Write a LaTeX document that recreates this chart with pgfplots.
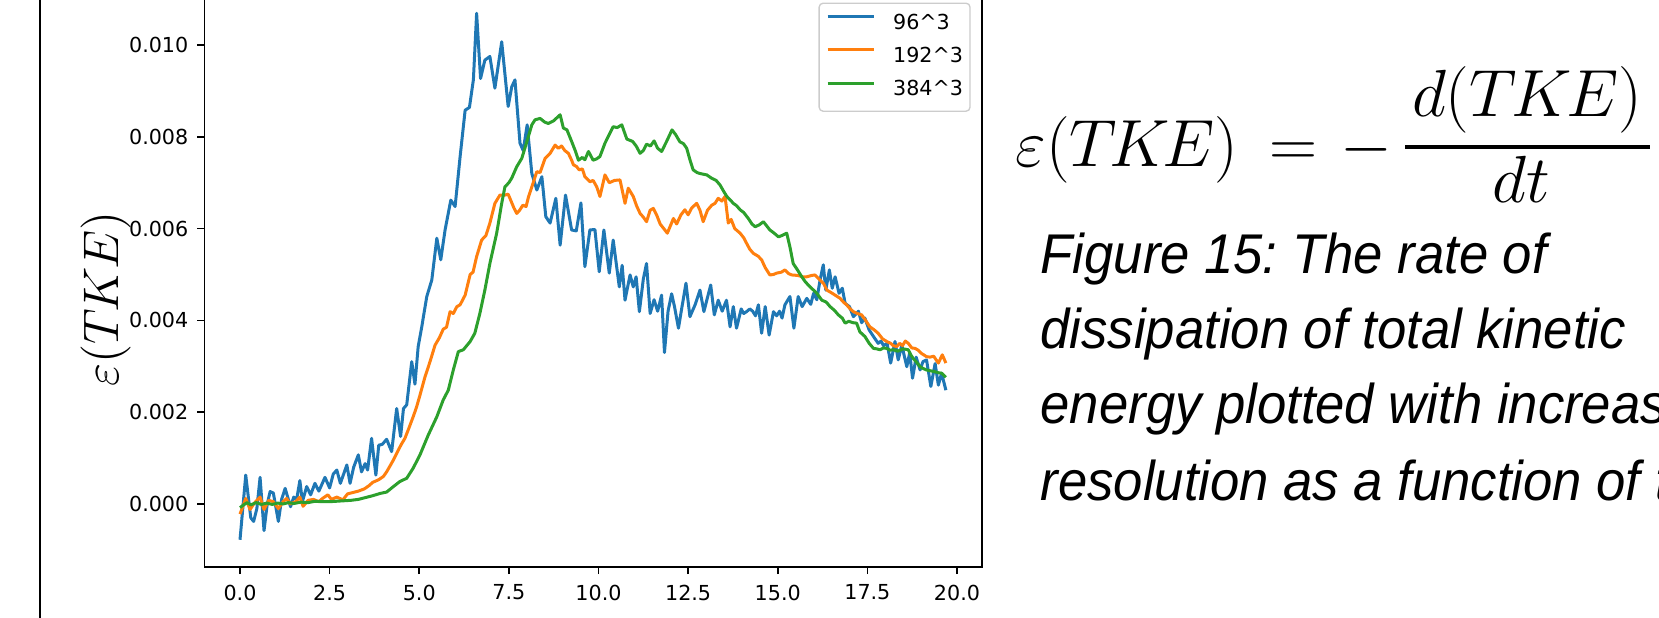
\RequirePackage{fix-cm}
\documentclass[border=0pt]{standalone}
\usepackage[no-math]{fontspec}
\setmainfont{DejaVu Sans}
\newfontfamily\capfont[FakeStretch=0.94]{Liberation Sans}
\usepackage{pgfplots}
\pgfplotsset{compat=1.18}
\definecolor{cB}{HTML}{1F77B4}
\definecolor{cO}{HTML}{FF7F0E}
\definecolor{cG}{HTML}{2CA02C}
\frenchspacing
\begin{document}
\begin{tikzpicture}
\useasboundingbox (0,0) rectangle (497.7pt,185.1pt);
\clip (0,0) rectangle (497.7pt,185.1pt);
\draw[line width=0.5pt] (12pt,-1pt) -- (12pt,186pt);
\begin{axis}[
  at={(61.29pt,15pt)}, anchor=south west,
  width=233.22pt, height=173.94pt, scale only axis,
  xmin=-0.996, xmax=20.689, ymin=-1.373, ymax=11.259,
  xtick={0,2.5,5,7.5,10,12.5,15,17.5,20},
  xticklabels={0.0,2.5,5.0,7.5,10.0,12.5,15.0,17.5,20.0},
  ytick={0,2,4,6,8,10},
  yticklabels={0.000,0.002,0.004,0.006,0.008,0.010},
  xtick pos=bottom, ytick pos=left,
  tick align=outside, major tick length=2.1pt,
  tick style={black, line width=0.48pt},
  axis line style={black, line width=0.48pt},
  ticklabel style={font=\fontsize{6.2}{7}\selectfont, inner sep=0pt},
  xticklabel style={anchor=north, yshift=-3pt},
  yticklabel style={anchor=east, xshift=-2.5pt},
  every axis y label/.style={at={(axis description cs:-0.111,0.4622)}, rotate=90, anchor=base},
  ylabel={\fontsize{15}{18}\selectfont $\varepsilon(T\mkern-1mu K\mkern-1mu E)$},
  legend style={at={(1,1)}, anchor=north east, xshift=-3.3pt, yshift=-4.6pt,
    draw=black!20, line width=0.4pt, rounded corners=1.2pt, fill=white,
    inner xsep=2.1pt, inner ysep=3.4pt, row sep=4.25pt,
    font=\fontsize{6.2}{7}\selectfont,
    nodes={inner sep=0pt, text height=4.5pt, text depth=1.2pt},
    /tikz/every odd column/.append style={column sep=5.2pt}},
  legend cell align=left,
  legend image code/.code={\draw[#1, line width=0.9pt] (0pt,2.2pt) -- (14pt,2.2pt);},
  every axis plot/.append style={line width=0.9pt, line join=round, mark=none},
]
\addplot[cB] coordinates {(0,-0.78)(0.16,0.63)(0.3,-0.30)(0.38,-0.38)(0.47,-0.1)(0.56,0.58)(0.67,-0.58)(0.76,0.0)(0.84,0.27)(0.93,0.24)(1.07,-0.38)(1.16,0.1)(1.26,0.34)(1.33,0.15)(1.41,-0.06)(1.5,0.15)(1.58,0.1)(1.67,0.51)(1.74,0.05)(1.86,0.38)(1.97,0.20)(2.09,0.45)(2.2,0.28)(2.37,0.58)(2.5,0.35)(2.6,0.65)(2.70,0.74)(2.8,0.45)(2.98,0.85)(3.07,0.45)(3.17,0.8)(3.30,1.07)(3.39,0.70)(3.49,0.88)(3.56,0.74)(3.67,1.43)(3.79,0.63)(3.87,1.28)(3.97,1.30)(4.09,1.41)(4.23,1.14)(4.37,2.08)(4.48,1.47)(4.56,2.08)(4.65,2.16)(4.79,3.10)(4.88,2.61)(4.97,3.43)(5.07,3.86)(5.21,4.52)(5.35,4.88)(5.49,5.79)(5.60,5.32)(5.72,5.97)(5.88,6.62)(6.00,6.48)(6.14,7.57)(6.28,8.58)(6.40,8.64)(6.51,9.24)(6.60,10.69)(6.71,9.27)(6.83,9.67)(6.97,9.75)(7.11,9.06)(7.30,10.07)(7.48,8.66)(7.58,9.09)(7.67,9.24)(7.81,7.86)(7.90,7.70)(8.01,8.26)(8.14,7.20)(8.28,6.84)(8.42,7.13)(8.53,6.26)(8.65,6.12)(8.81,6.66)(8.93,5.64)(9.08,6.73)(9.25,5.97)(9.38,5.95)(9.51,6.56)(9.62,5.17)(9.76,5.97)(9.90,5.98)(10.02,5.06)(10.15,5.97)(10.30,5.03)(10.41,5.75)(10.58,4.73)(10.66,5.2)(10.74,4.44)(10.88,4.99)(10.97,4.73)(11.05,4.95)(11.14,4.19)(11.25,4.9)(11.34,5.24)(11.44,4.15)(11.55,4.45)(11.65,4.2)(11.76,4.55)(11.84,3.30)(11.94,4.2)(12.04,4.58)(12.12,4.3)(12.23,3.83)(12.33,4.3)(12.44,4.81)(12.55,4.08)(12.70,4.35)(12.83,4.66)(12.94,4.19)(13.04,4.5)(13.13,4.77)(13.23,4.12)(13.34,4.44)(13.45,4.2)(13.57,4.44)(13.67,3.86)(13.76,4.3)(13.85,3.83)(13.98,4.25)(14.05,4.15)(14.13,4.19)(14.22,4.25)(14.30,4.2)(14.38,4.1)(14.46,4.34)(14.55,3.72)(14.65,4.3)(14.76,3.68)(14.88,4.19)(14.97,4.1)(15.05,4.2)(15.12,4.05)(15.20,4.34)(15.34,4.52)(15.45,3.83)(15.57,4.52)(15.68,4.3)(15.81,4.48)(15.92,4.35)(16.00,4.59)(16.09,4.45)(16.18,4.88)(16.27,5.21)(16.34,4.66)(16.44,5.10)(16.52,4.7)(16.60,4.95)(16.71,4.59)(16.80,4.7)(16.88,4.37)(17.00,4.3)(17.11,4.08)(17.25,4.2)(17.34,3.95)(17.43,4.05)(17.55,3.79)(17.67,3.65)(17.80,3.50)(17.88,3.55)(17.95,3.45)(18.05,3.5)(18.15,3.07)(18.27,3.54)(18.36,3.14)(18.46,3.46)(18.60,2.99)(18.68,3.3)(18.76,2.74)(18.86,3.2)(18.97,2.92)(19.05,3.1)(19.15,3.14)(19.27,2.56)(19.39,3.06)(19.48,2.59)(19.57,2.85)(19.69,2.48)};
\addlegendentry{96\textasciicircum 3}
\addplot[cO] coordinates {(0,-0.22)(0.08,-0.05)(0.16,0.12)(0.28,-0.12)(0.4,0.02)(0.56,0.15)(0.67,-0.12)(0.8,0.08)(0.93,0.05)(1.07,-0.1)(1.2,0.05)(1.3,0.12)(1.4,0.0)(1.55,0.05)(1.67,0.15)(1.76,-0.05)(1.9,0.08)(2.05,0.1)(2.2,0.05)(2.3,0.12)(2.45,0.2)(2.55,0.1)(2.7,0.15)(2.87,0.09)(3.0,0.22)(3.15,0.25)(3.3,0.28)(3.47,0.33)(3.6,0.4)(3.7,0.47)(3.87,0.53)(4.0,0.6)(4.09,0.70)(4.2,0.85)(4.28,0.96)(4.4,1.15)(4.5,1.3)(4.6,1.43)(4.71,1.65)(4.83,1.90)(4.92,2.1)(5.02,2.37)(5.16,2.77)(5.30,3.10)(5.44,3.46)(5.56,3.62)(5.67,3.81)(5.76,3.85)(5.86,4.19)(5.95,4.15)(6.05,4.3)(6.14,4.34)(6.28,4.55)(6.42,5.0)(6.50,5.05)(6.60,5.39)(6.74,5.75)(6.86,5.85)(6.97,6.12)(7.11,6.55)(7.25,6.73)(7.39,6.73)(7.48,6.75)(7.55,6.62)(7.64,6.45)(7.72,6.33)(7.80,6.4)(7.89,6.51)(7.98,6.48)(8.05,6.7)(8.14,6.91)(8.28,7.24)(8.37,7.22)(8.51,7.53)(8.65,7.64)(8.79,7.82)(8.88,7.75)(8.97,7.8)(9.06,7.7)(9.16,7.64)(9.25,7.49)(9.30,7.39)(9.39,7.35)(9.46,7.28)(9.55,7.3)(9.62,7.13)(9.76,7.02)(9.85,7.05)(9.95,6.91)(10.04,6.70)(10.18,7.17)(10.3,7.0)(10.45,7.05)(10.60,7.06)(10.74,6.55)(10.83,6.88)(10.97,6.70)(11.06,6.5)(11.16,6.33)(11.25,6.25)(11.34,6.15)(11.44,6.4)(11.53,6.44)(11.62,6.3)(11.72,6.1)(11.82,6.0)(11.92,5.90)(12.0,6.05)(12.09,6.22)(12.18,6.1)(12.3,6.3)(12.41,6.41)(12.5,6.3)(12.6,6.45)(12.74,6.55)(12.83,6.4)(12.92,6.15)(13.04,6.4)(13.16,6.51)(13.25,6.55)(13.34,6.66)(13.44,6.6)(13.53,6.70)(13.62,6.12)(13.7,6.2)(13.8,6.0)(13.95,5.90)(14.05,5.8)(14.13,5.68)(14.22,5.55)(14.32,5.46)(14.45,5.4)(14.55,5.32)(14.65,5.15)(14.78,4.99)(14.88,5.0)(14.97,5.03)(15.10,5.05)(15.20,5.10)(15.3,5.02)(15.39,4.99)(15.55,4.98)(15.7,4.95)(15.81,4.95)(15.95,4.98)(16.04,4.99)(16.18,4.88)(16.28,4.8)(16.37,4.66)(16.5,4.6)(16.6,4.55)(16.74,4.48)(16.83,4.4)(16.92,4.34)(17.02,4.25)(17.11,4.19)(17.22,4.15)(17.34,4.12)(17.45,4.0)(17.57,3.86)(17.68,3.8)(17.80,3.72)(17.92,3.6)(18.04,3.54)(18.15,3.5)(18.22,3.45)(18.32,3.43)(18.4,3.5)(18.48,3.45)(18.56,3.55)(18.64,3.50)(18.74,3.4)(18.83,3.39)(18.92,3.35)(19.01,3.28)(19.15,3.21)(19.25,3.2)(19.35,3.22)(19.48,3.07)(19.59,3.25)(19.69,3.07)};
\addlegendentry{192\textasciicircum 3}
\addplot[cG] coordinates {(0,-0.08)(0.1,-0.02)(0.2,0.03)(0.3,-0.02)(0.45,0.03)(0.6,-0.01)(0.75,0.02)(0.9,-0.01)(1.05,0.02)(1.2,0.0)(1.35,0.03)(1.5,0.01)(1.7,0.04)(1.9,0.03)(2.1,0.06)(2.3,0.05)(2.5,0.05)(2.7,0.06)(2.9,0.07)(3.1,0.08)(3.3,0.1)(3.5,0.14)(3.7,0.18)(3.91,0.23)(4.09,0.26)(4.28,0.38)(4.46,0.49)(4.65,0.56)(4.83,0.78)(5.02,1.07)(5.25,1.50)(5.49,1.90)(5.67,2.27)(5.81,2.48)(5.95,2.92)(6.09,3.32)(6.23,3.36)(6.42,3.54)(6.55,3.72)(6.69,4.15)(6.83,4.66)(6.97,5.24)(7.16,5.90)(7.30,6.55)(7.39,6.91)(7.50,7.0)(7.58,7.10)(7.72,7.35)(7.86,7.53)(8.0,7.89)(8.14,8.26)(8.23,8.37)(8.37,8.40)(8.50,8.32)(8.60,8.29)(8.75,8.35)(8.93,8.48)(9.02,8.19)(9.12,8.15)(9.25,7.90)(9.35,7.7)(9.44,7.49)(9.55,7.55)(9.62,7.5)(9.72,7.68)(9.85,7.49)(9.95,7.52)(10.04,7.57)(10.18,7.86)(10.30,8.05)(10.41,8.22)(10.52,8.2)(10.65,8.26)(10.79,7.95)(10.95,7.9)(11.05,7.8)(11.16,7.64)(11.25,7.7)(11.34,7.84)(11.45,7.8)(11.55,7.91)(11.65,7.75)(11.76,7.68)(11.9,7.9)(12.05,8.15)(12.15,8.05)(12.27,7.89)(12.37,7.85)(12.46,7.75)(12.55,7.5)(12.64,7.28)(12.75,7.22)(12.83,7.20)(12.95,7.18)(13.02,7.17)(13.15,7.1)(13.28,7.05)(13.39,6.95)(13.50,6.8)(13.58,6.70)(13.68,6.62)(13.76,6.55)(13.85,6.5)(13.95,6.41)(14.05,6.35)(14.18,6.22)(14.28,6.1)(14.37,6.04)(14.48,6.08)(14.60,6.15)(14.70,6.05)(14.78,5.97)(14.90,5.9)(15.02,5.82)(15.12,5.85)(15.25,5.90)(15.34,5.6)(15.43,5.24)(15.55,5.1)(15.67,4.95)(15.76,4.85)(15.85,4.77)(15.97,4.68)(16.09,4.59)(16.23,4.44)(16.35,4.4)(16.46,4.30)(16.58,4.22)(16.69,4.12)(16.80,4.05)(16.88,3.94)(16.98,3.98)(17.1,3.95)(17.2,3.94)(17.29,3.75)(17.43,3.65)(17.55,3.5)(17.67,3.39)(17.76,3.38)(17.85,3.36)(17.95,3.4)(18.04,3.39)(18.13,3.35)(18.22,3.36)(18.35,3.33)(18.5,3.38)(18.64,3.36)(18.71,3.25)(18.78,3.17)(18.88,3.08)(18.97,2.99)(19.06,2.95)(19.15,2.92)(19.27,2.9)(19.39,2.88)(19.48,2.86)(19.57,2.85)(19.69,2.76)};
\addlegendentry{384\textasciicircum 3}
\end{axis}
\begin{scope}[every node/.style={inner sep=0pt, font=\fontsize{20}{24}\selectfont}]
\node[anchor=base west] at (304.5pt,135.1pt) {$\varepsilon(T\mkern-2mu K\mkern-2mu E)$};
\node[anchor=base] at (388.05pt,135.1pt) {$=$};
\node[anchor=base] at (409.95pt,135.1pt) {$-$};
\draw[line width=1.3pt] (421.5pt,141.09pt) -- (495pt,141.09pt);
\node[anchor=base] at (458.1pt,150pt) {$d(T\mkern-1.5mu K\mkern-1.5mu E)$};
\node[anchor=base] at (456.3pt,124.5pt) {$dt$};
\end{scope}
\begin{scope}[every node/.style={anchor=base west, inner sep=0pt, font=\capfont\itshape\fontsize{16.8}{20}\selectfont}]
\node at (312pt,103.0pt) {Figure 15: The rate of};
\node at (312pt,80.6pt) {dissipation of total kinetic};
\node at (312pt,58.2pt) {energy plotted with increasing};
\node at (312pt,35.1pt) {resolution as a function of time};
\end{scope}
\end{tikzpicture}
\end{document}
